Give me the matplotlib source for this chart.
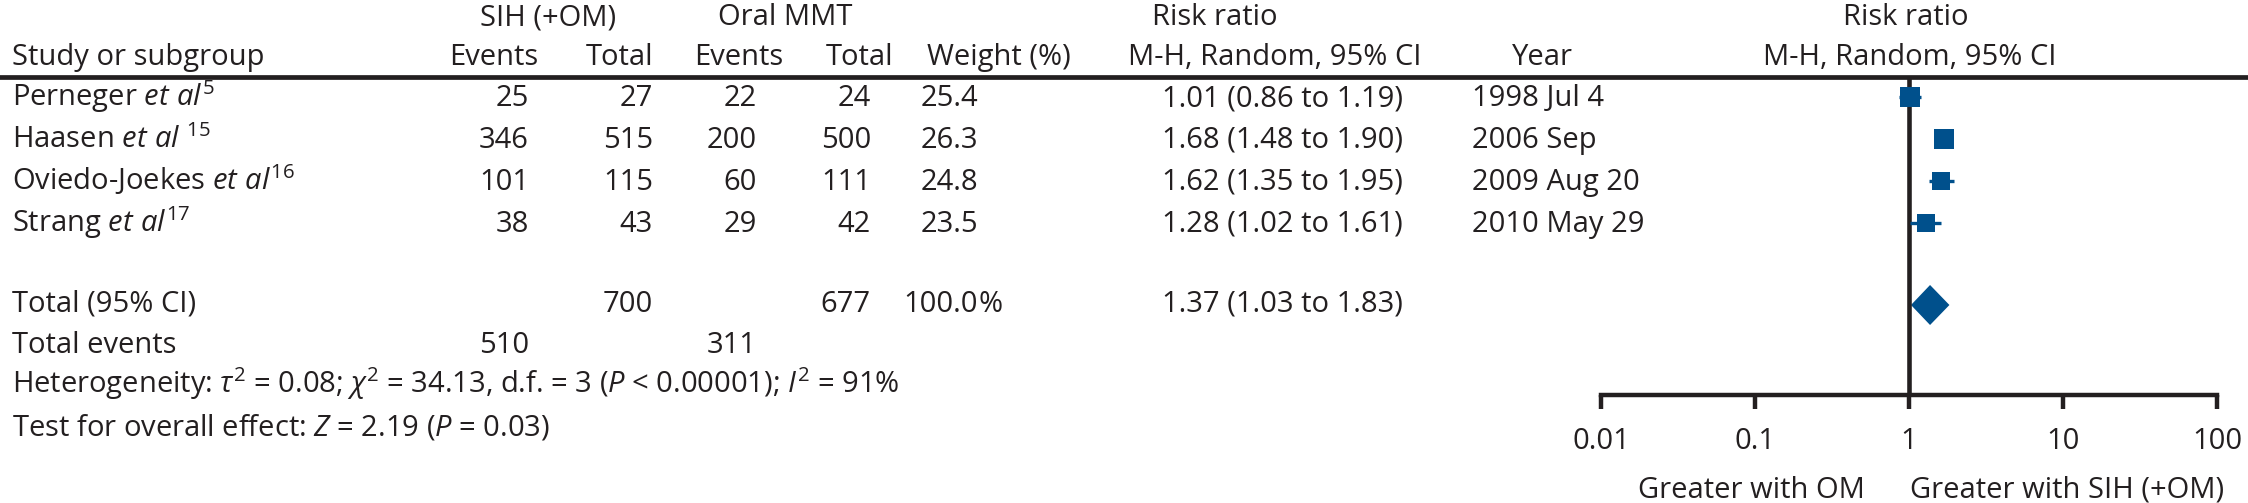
import matplotlib
matplotlib.use("Agg")
import matplotlib.pyplot as plt

W, H, DPI = 2248, 503, 100
FS = 21
INK = "#231f20"
BLUE = "#00508c"
WT = 'normal'

plt.rcParams['font.family'] = ['Open Sans', 'DejaVu Sans']
plt.rcParams['font.weight'] = WT
plt.rcParams['mathtext.fontset'] = 'custom'
plt.rcParams['mathtext.rm'] = 'Open Sans'
plt.rcParams['mathtext.it'] = 'Open Sans:italic'
plt.rcParams['mathtext.bf'] = 'Open Sans:bold'

# data
studies = [r"Perneger $\mathit{et\ al}^{5}$", r"Haasen $\mathit{et\ al}\ {}^{15}$",
           r"Oviedo-Joekes $\mathit{et\ al}^{16}$", r"Strang $\mathit{et\ al}^{17}$"]
sih_events = [25, 346, 101, 38]
sih_total = [27, 515, 115, 43]
mmt_events = [22, 200, 60, 29]
mmt_total = [24, 500, 111, 42]
weights = [25.4, 26.3, 24.8, 23.5]
rr = [1.01, 1.68, 1.62, 1.28]
rr_lo = [0.86, 1.48, 1.35, 1.02]
rr_hi = [1.19, 1.90, 1.95, 1.61]
years = ["1998 Jul 4", "2006 Sep", "2009 Aug 20", "2010 May 29"]

total_sih, total_mmt = 700, 677
total_weight = 100.0
events_sih, events_mmt = 510, 311
pooled_rr, pooled_lo, pooled_hi = 1.37, 1.03, 1.83
heterogeneity = (r"Heterogeneity: $\tau^2$ = 0.08; $\chi^2$ = 34.13, d.f. = 3 "
                 r"($P$ < 0.00001); $I^2$ = 91%")
overall = r"Test for overall effect: $Z$ = 2.19 ($P$ = 0.03)"
ticks = [0.01, 0.1, 1, 10, 100]
tick_labels = ["0.01", "0.1", "1", "10", "100"]
left_label = "Greater with OM"
right_label = "Greater with SIH (+OM)"

fig = plt.figure(figsize=(W / DPI, H / DPI), dpi=DPI)
ax = fig.add_axes([0, 0, 1, 1])
ax.set_xlim(0, W)
ax.set_ylim(H, 0)
ax.axis('off')


def txt(x, y, s, ha='left'):
    ax.text(x, y, s, ha=ha, va='baseline', fontsize=FS, color=INK)


# headers
txt(548, 25, "SIH (+OM)", 'center')
txt(785, 25, "Oral MMT", 'center')
txt(1152, 25, "Risk ratio")
txt(1906, 25, "Risk ratio", 'center')
txt(12, 65, "Study or subgroup")
txt(538, 65, "Events", 'right')
txt(653, 65, "Total", 'right')
txt(783, 65, "Events", 'right')
txt(893, 65, "Total", 'right')
txt(927, 65, "Weight (%)")
txt(1128, 65, "M-H, Random, 95% CI")
txt(1512, 65, "Year")
txt(1910, 65, "M-H, Random, 95% CI", 'center')
ax.axhline(77, color=INK, lw=3.4)

# study rows
row0, step = 106, 42
for i in range(len(studies)):
    y = row0 + i * step
    txt(12, y, studies[i])
    txt(529, y, str(sih_events[i]), 'right')
    txt(653, y, str(sih_total[i]), 'right')
    txt(757, y, str(mmt_events[i]), 'right')
    txt(871, y, str(mmt_total[i]), 'right')
    txt(978, y, f"{weights[i]:.1f}", 'right')
    txt(1162, y, f"{rr[i]:.2f} ({rr_lo[i]:.2f} to {rr_hi[i]:.2f})")
    txt(1472, y, years[i])

# totals
yt = 312
txt(12, yt, "Total (95% CI)")
txt(653, yt, str(total_sih), 'right')
txt(871, yt, str(total_mmt), 'right')
txt(978, yt, f"{total_weight:.1f}", 'right')
txt(978, yt, "%")
txt(1162, yt, f"{pooled_rr:.2f} ({pooled_lo:.2f} to {pooled_hi:.2f})")
txt(12, 353, "Total events")
txt(529, 353, str(events_sih), 'right')
txt(757, 353, str(events_mmt), 'right')
txt(12, 393, heterogeneity)
txt(12, 435, overall)

# forest plot
x0, x1, yaxis = 1601, 2217, 395
fp = fig.add_axes([x0 / W, 0, (x1 - x0) / W, 1])
fp.set_xscale('log')
fp.set_xlim(ticks[0], ticks[-1])
fp.set_ylim(H, 0)
fp.patch.set_visible(False)
for s in ['left', 'right', 'top']:
    fp.spines[s].set_visible(False)
fp.spines['bottom'].set_position(('data', yaxis))
fp.spines['bottom'].set_linewidth(3.2)
fp.spines['bottom'].set_color(INK)
fp.set_yticks([])
fp.set_xticks(ticks)
fp.set_xticklabels(tick_labels)
fp.minorticks_off()
fp.tick_params(axis='x', direction='out', length=10, width=3.2, color=INK,
               labelsize=FS, labelcolor=INK, pad=13)

fp.vlines(1, 77, yaxis, color=INK, lw=3.3)
for i in range(len(studies)):
    y = row0 + i * step - 9
    fp.hlines(y, rr_lo[i], rr_hi[i], color=BLUE, lw=2.4)
    fp.plot(rr[i], y, marker='s', ms=0.54 * weights[i], color=BLUE, mew=0)
yd = 305
fp.fill([pooled_lo, pooled_rr, pooled_hi, pooled_rr], [yd, yd - 20, yd, yd + 20],
        color=BLUE, lw=0)

ax.text(1865, 498, left_label, ha='right', va='baseline', fontsize=FS, color=INK)
ax.text(1910, 498, right_label, ha='left', va='baseline', fontsize=FS, color=INK)

fig.savefig("out.png", dpi=DPI)
